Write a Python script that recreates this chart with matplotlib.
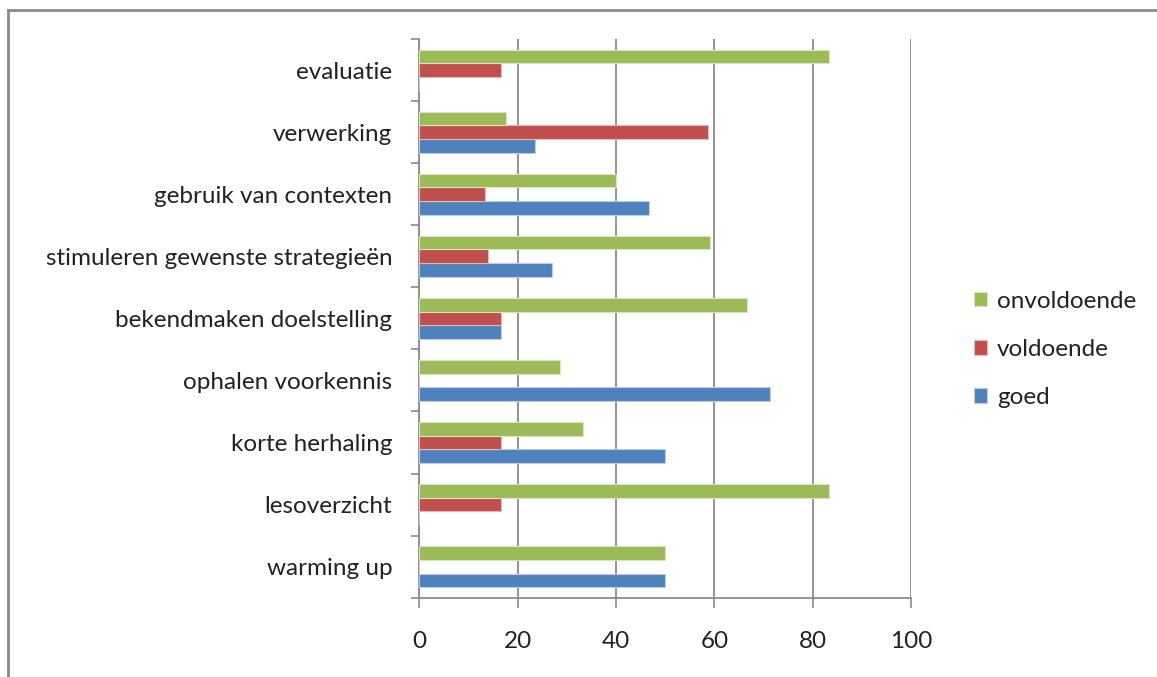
import matplotlib
matplotlib.use("Agg")
import matplotlib.pyplot as plt
import numpy as np
from matplotlib.patches import Patch

plt.rcParams['font.family'] = ['Lato', 'DejaVu Sans']

categories = [
    "warming up",
    "lesoverzicht",
    "korte herhaling",
    "ophalen voorkennis",
    "bekendmaken doelstelling",
    "stimuleren gewenste strategieën",
    "gebruik van contexten",
    "verwerking",
    "evaluatie",
]
goed = [50.0, 0.0, 50.0, 71.4, 16.7, 26.9, 46.7, 23.5, 0.0]
voldoende = [0.0, 16.7, 16.7, 0.0, 16.7, 13.9, 13.3, 58.8, 16.7]
onvoldoende = [50.0, 83.3, 33.3, 28.6, 66.7, 59.2, 40.0, 17.6, 83.3]
series_names = ["goed", "voldoende", "onvoldoende"]
x_ticks = [0, 20, 40, 60, 80, 100]

colors = {"goed": "#4F81BD", "voldoende": "#C0504D", "onvoldoende": "#9BBB59"}
edges = {"goed": "#B9CDE5", "voldoende": "#E6B9B8", "onvoldoende": "#D7E4BD"}

FS = 17.5

fig = plt.figure(figsize=(11.57, 6.77), dpi=100)
ax = fig.add_axes([0.3624, 0.1171, 0.4250, 0.8253])

y = np.arange(len(categories))
h = 0.22
for vals, name, off in [(goed, "goed", -h), (voldoende, "voldoende", 0.0),
                        (onvoldoende, "onvoldoende", h)]:
    ax.barh(y + off, vals, height=h, color=colors[name],
            edgecolor=edges[name], linewidth=0.8, zorder=3)

ax.set_xlim(0, 100)
ax.set_ylim(-0.5, len(categories) - 0.5)
ax.set_xticks(x_ticks)
ax.set_xticklabels([str(t) for t in x_ticks])
ax.set_yticks(np.arange(-0.5, len(categories), 1.0))
ax.set_yticklabels([])
ax.set_yticks(y, minor=True)
ax.set_yticklabels(categories, minor=True)
ax.tick_params(axis='y', which='minor', length=0, pad=19.5, labelsize=FS,
               labelcolor="#222222")
ax.tick_params(axis='y', which='major', length=6, color="#8c8c8c", width=1.2)
ax.tick_params(axis='x', length=7, color="#8c8c8c", width=1.2, pad=17,
               labelsize=FS, labelcolor="#222222")

ax.grid(axis='x', color="#8c8c8c", linewidth=1.3, zorder=0)
for side in ("top", "right"):
    ax.spines[side].set_visible(False)
for side in ("left", "bottom"):
    ax.spines[side].set_color("#8c8c8c")
    ax.spines[side].set_linewidth(1.3)

handles = [Patch(facecolor=colors[n], edgecolor=edges[n], linewidth=0.8)
           for n in ["onvoldoende", "voldoende", "goed"]]
fig.legend(handles, ["onvoldoende", "voldoende", "goed"],
           loc="center left", bbox_to_anchor=(0.823, 0.484), frameon=False,
           fontsize=FS, labelspacing=1.12, handlelength=0.55,
           handleheight=0.55, handletextpad=0.4, labelcolor="#222222")

# outer chart frame
fig.add_artist(plt.Line2D([0.0072, 0.0072], [0.0, 0.985], transform=fig.transFigure,
                          color="#8a8a8a", linewidth=2))
fig.add_artist(plt.Line2D([0.0072, 1.0], [0.985, 0.985], transform=fig.transFigure,
                          color="#8a8a8a", linewidth=2))

fig.savefig("out.png", dpi=100)
